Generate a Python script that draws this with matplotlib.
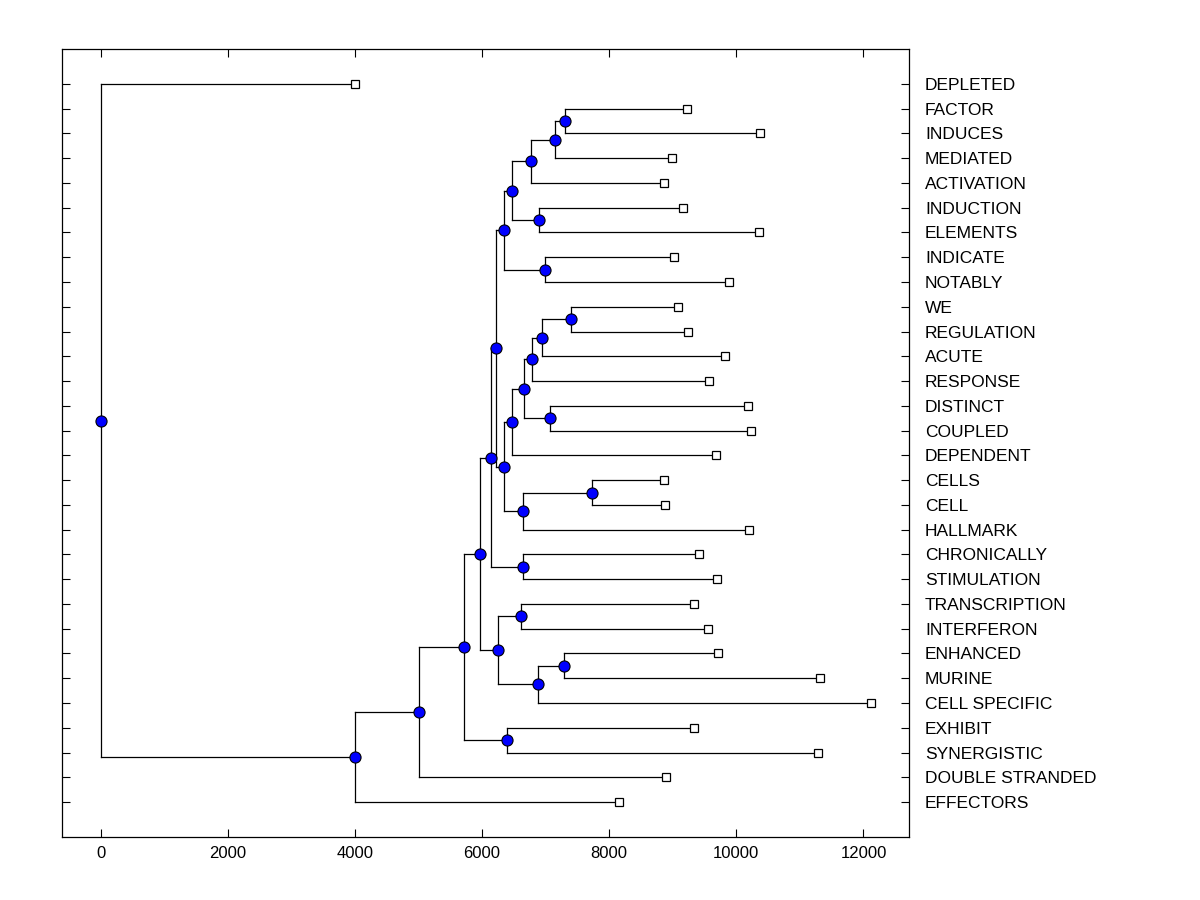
import matplotlib
matplotlib.use("Agg")
import matplotlib.pyplot as plt

plt.rcParams["font.family"] = ["Liberation Sans", "DejaVu Sans"]

# ---- leaves, top to bottom, with their heights ----
leaf_names = [
    "DEPLETED", "FACTOR", "INDUCES", "MEDIATED", "ACTIVATION", "INDUCTION",
    "ELEMENTS", "INDICATE", "NOTABLY", "WE", "REGULATION", "ACUTE",
    "RESPONSE", "DISTINCT", "COUPLED", "DEPENDENT", "CELLS", "CELL",
    "HALLMARK", "CHRONICALLY", "STIMULATION", "TRANSCRIPTION", "INTERFERON",
    "ENHANCED", "MURINE", "CELL SPECIFIC", "EXHIBIT", "SYNERGISTIC",
    "DOUBLE STRANDED", "EFFECTORS",
]
leaf_x = [
    4006, 9231, 10380, 8995, 8869, 9168,
    10364, 9026, 9892, 9089, 9247, 9829,
    9577, 10191, 10238, 9687, 8869, 8885,
    10207, 9420, 9703, 9341, 9562,
    9719, 11324, 12111, 9336, 11277,
    8900, 8161,
]

# ---- internal nodes: name, child a (upper), child b (lower), height ----
node_names = ["fi", "q", "p", "ie", "o", "ind", "top",
              "wr", "n", "m", "dc", "l", "j", "cells", "k", "i", "h",
              "cs", "f", "ti", "em", "emc", "g", "d", "e", "c", "b", "a", "root"]
node_a = ["FACTOR", "fi", "q", "INDUCTION", "p", "INDICATE", "o",
          "WE", "wr", "n", "DISTINCT", "m", "l", "CELLS", "cells", "j", "top",
          "CHRONICALLY", "h", "TRANSCRIPTION", "ENHANCED", "em", "ti", "f",
          "EXHIBIT", "d", "c", "b", "DEPLETED"]
node_b = ["INDUCES", "MEDIATED", "ACTIVATION", "ELEMENTS", "ie", "NOTABLY", "ind",
          "REGULATION", "ACUTE", "RESPONSE", "COUPLED", "dc", "DEPENDENT", "CELL",
          "HALLMARK", "k", "i",
          "STIMULATION", "cs", "INTERFERON", "MURINE", "CELL SPECIFIC", "emc", "g",
          "SYNERGISTIC", "e", "DOUBLE STRANDED", "EFFECTORS", "a"]
node_x = [7311, 7154, 6776, 6902, 6477, 6996, 6352,
          7406, 6949, 6792, 7075, 6666, 6477, 7736, 6651, 6352, 6226,
          6651, 6142, 6619, 7296, 6886, 6257, 5974, 6399, 5722, 5014, 4006, 0]

n_leaves = len(leaf_names)
pos = {}
for i, (name, x) in enumerate(zip(leaf_names, leaf_x)):
    pos[name] = (x, n_leaves - 1 - i)
for name, a, b, x in zip(node_names, node_a, node_b, node_x):
    pos[name] = (x, (pos[a][1] + pos[b][1]) / 2)

fig = plt.figure(figsize=(12, 9), dpi=100)
ax = fig.add_axes([0.0517, 0.07, 0.7058, 0.8756])

lw = 0.9
for name, a, b in zip(node_names, node_a, node_b):
    x, y = pos[name]
    xa, ya = pos[a]
    xb, yb = pos[b]
    ax.plot([x, x], [ya, yb], color="black", lw=lw, zorder=1)
    ax.plot([x, xa], [ya, ya], color="black", lw=lw, zorder=1)
    ax.plot([x, xb], [yb, yb], color="black", lw=lw, zorder=1)

ax.plot([pos[n][0] for n in node_names], [pos[n][1] for n in node_names],
        "o", ms=8, mfc="#0000ff", mec="black", mew=0.8, ls="none", zorder=3)
ax.plot([pos[n][0] for n in leaf_names], [pos[n][1] for n in leaf_names],
        "s", ms=6, mfc="white", mec="black", mew=0.9, ls="none", zorder=3)

ax.set_xlim(-605, 12716)
ax.set_ylim(-1.41, n_leaves - 1 + 1.41)
ax.set_xticks([0, 2000, 4000, 6000, 8000, 10000, 12000])
ax.set_yticks([pos[n][1] for n in leaf_names])
ax.set_yticklabels(leaf_names)

ax.tick_params(axis="x", direction="in", top=True, bottom=True, length=6,
               width=0.8, labelsize=12, pad=6.5)
ax.tick_params(axis="y", direction="in", left=True, right=True, length=6,
               width=0.8, labelleft=False, labelright=True, labelsize=12.5,
               pad=11.5)
for s in ax.spines.values():
    s.set_linewidth(0.9)

fig.savefig("out.png", dpi=100)
